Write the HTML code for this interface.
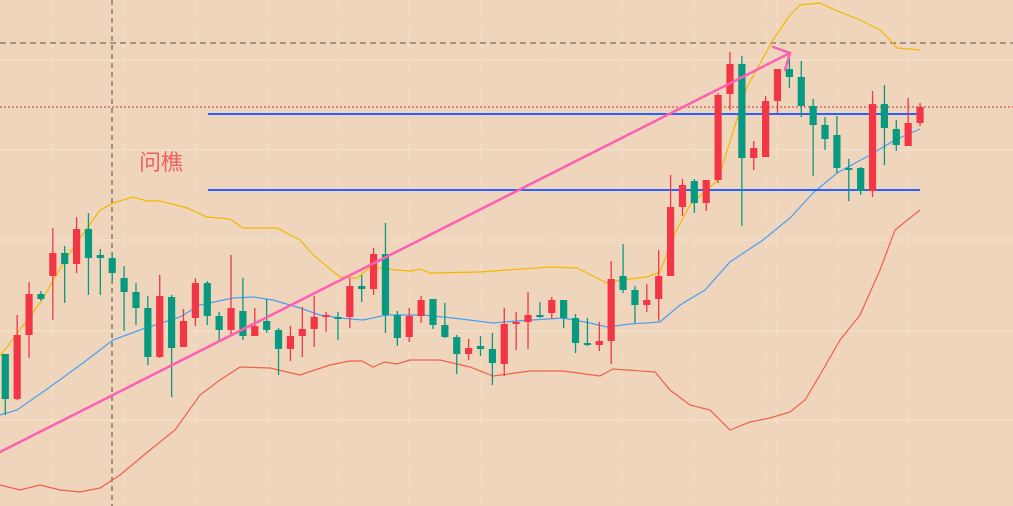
<!DOCTYPE html>
<html><head><meta charset="utf-8"><style>
html,body{margin:0;padding:0;background:#eed5bb;}
svg{display:block}
</style></head><body>
<svg id="c" width="1013" height="506" xmlns="http://www.w3.org/2000/svg">
<rect width="1013" height="506" fill="#eed5bb"/>
<g id="grid" stroke="#f3e0cc" stroke-width="1.2"></g>
<line x1="0" y1="43" x2="1013" y2="43" stroke="#555" stroke-dasharray="6,4" stroke-width="1"/>
<line x1="0" y1="107" x2="1013" y2="107" stroke="#c0392b" stroke-dasharray="2,2" stroke-width="1"/>
<line x1="112" y1="0" x2="112" y2="506" stroke="#444" stroke-dasharray="5,4" stroke-width="1"/>
<polyline fill="none" stroke="#f5b800" stroke-width="1.2" points="0,356 7,347 40,303 67,257 100,210 113,203 133,197 147,201 160,201 187,208 207,217 230,219 243,228 277,228 300,240 313,255 340,277 357,278 370,267 397,270 410,271 420,269 430,273 480,272 493,271 550,267 577,268 607,283 620,280 647,277 660,272 675,233 690,205 718,180 747,87 773,40 790,15 800,5 820,3 835,10 860,20 880,30 890,40 897,48 920,50"/>
<polyline fill="none" stroke="#4a9ff5" stroke-width="1.2" points="0,415 17,410 50,387 83,363 113,340 140,330 180,317 200,305 233,298 253,297 273,300 300,308 320,315 340,318 363,320 387,315 423,315 453,318 493,323 517,321 563,318 590,323 607,327 630,324 660,322 680,305 705,290 730,262 763,240 790,218 813,193 837,173 870,155 895,140 920,129"/>
<polyline fill="none" stroke="#f0604a" stroke-width="1.2" points="0,485 20,490 40,485 60,490 80,492 100,488 120,475 150,450 175,430 200,395 220,380 240,367 270,368 300,375 330,365 350,361 362,361 373,367 385,362 397,364 410,360 440,360 470,367 493,376 530,371 563,371 600,376 613,369 655,372 670,390 690,405 710,410 730,430 750,422 770,418 790,412 805,400 820,375 840,340 860,315 880,270 895,230 920,210"/>
<line x1="208" y1="114" x2="920" y2="114" stroke="#2962ff" stroke-width="2"/>
<line x1="208" y1="190" x2="920" y2="190" stroke="#2962ff" stroke-width="2"/>
<g id="candles"></g>
<g stroke="#ff5fb0" stroke-width="2.5" fill="none" stroke-linecap="round">
<line x1="0" y1="452" x2="790" y2="53"/>
<polyline points="773,47 790,53 785,70"/>
</g>
<text x="139" y="170" font-family="Liberation Sans, Noto Sans CJK SC, sans-serif" font-size="22" fill="#f06060">问樵</text>
</svg>
<script>
var d=[[399,354,354,415,'g'],[335,399,315,400,'r'],[294,335,282,358,'r'],[299,294,291,301,'g'],[253,276,228,320,'r'],[264,253,246,303,'g'],[229,264,217,273,'r'],[258,229,213,295,'g'],[258,255,249,295,'g'],[273,258,253,282,'g'],[292,278,266,331,'g'],[308,292,283,325,'g'],[357,308,296,365,'g'],[296,357,275,358,'r'],[348,297,295,397,'g'],[321,347,309,347,'r'],[283,318,278,326,'r'],[316,283,281,325,'g'],[330,316,312,341,'g'],[308,330,255,336,'r'],[336,311,278,340,'g'],[326,336,308,336,'r'],[330,321,299,333,'g'],[349,330,328,375,'g'],[336,349,326,361,'r'],[329,336,307,357,'r'],[317,329,296,347,'r'],[315,317,312,332,'r'],[318,317,312,340,'g'],[286,317,278,328,'r'],[289,286,275,302,'g'],[254,289,248,295,'r'],[315,254,223,333,'g'],[338,315,311,346,'g'],[316,337,308,342,'r'],[300,316,296,323,'r'],[325,299,299,329,'g'],[337,325,303,338,'g'],[354,337,335,374,'g'],[348,354,339,360,'r'],[349,346,336,356,'g'],[363,349,333,385,'g'],[324,364,308,376,'r'],[322,324,312,350,'r'],[315,322,292,349,'r'],[316,315,302,318,'g'],[300,313,297,319,'r'],[318,300,300,328,'g'],[343,318,314,353,'g'],[345,343,318,346,'g'],[341,345,322,351,'r'],[279,341,261,364,'r'],[290,276,244,293,'g'],[305,290,286,323,'g'],[300,305,284,312,'r'],[276,299,250,321,'r'],[207,276,175,276,'r'],[185,207,179,216,'r'],[203,181,179,213,'g'],[180,203,180,211,'r'],[95,180,93,183,'r'],[64,94,52,110,'r'],[158,64,56,226,'g'],[148,158,141,170,'r'],[101,157,96,157,'r'],[69,101,69,113,'r'],[77,69,58,88,'g'],[106,77,61,117,'g'],[125,106,99,176,'g'],[139,125,117,150,'g'],[168,135,116,173,'g'],[169,168,159,201,'g'],[191,168,167,195,'g'],[104,191,91,197,'r'],[128,104,85,165,'g'],[145,129,120,151,'g'],[123,146,98,146,'r'],[107,123,103,126,'r']];
var s='';
for(var i=0;i<d.length;i++){var x=5.3+11.88*i,c=d[i],col=c[4]=='r'?'#f23645':'#089981';
var t=Math.min(c[0],c[1]),b=Math.max(c[0],c[1]);if(b-t<2)b=t+2;
s+='<line x1="'+x+'" y1="'+c[2]+'" x2="'+x+'" y2="'+c[3]+'" stroke="'+col+'" stroke-width="1.3"/>';
s+='<rect x="'+(x-3.6)+'" y="'+t+'" width="7.2" height="'+(b-t)+'" fill="'+col+'"/>';}
document.getElementById('candles').innerHTML=s;
var g='';
var vx=[52,124,195,267,338,409,481,552,622,694,766,777,838,908];
vx.forEach(function(x){g+='<line x1="'+x+'" y1="0" x2="'+x+'" y2="506" stroke-dasharray="6,5"/>';});
[60,150,240,331,420].forEach(function(y){g+='<line x1="0" y1="'+y+'" x2="1013" y2="'+y+'"/>';});
document.getElementById('grid').innerHTML=g;
</script>
</body></html>
